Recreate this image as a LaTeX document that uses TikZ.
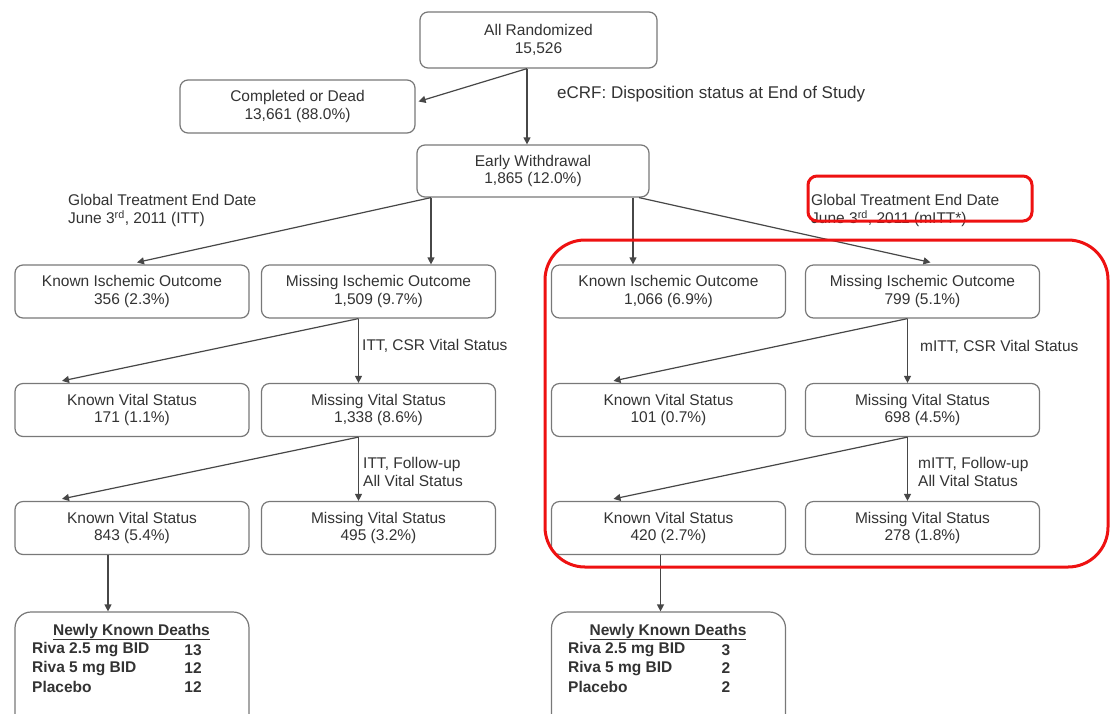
\documentclass[tikz,border=0pt]{standalone}
\usepackage{fontspec}
\setmainfont{Liberation Sans}
\usetikzlibrary{arrows.meta,calc}
\definecolor{txt}{HTML}{333333}
\definecolor{bord}{HTML}{787878}
\definecolor{ln}{HTML}{474747}
\definecolor{hl}{HTML}{EE1111}
\begin{document}
\begin{tikzpicture}[x=1pt,y=-1pt,
  box/.style={draw=bord, line width=1.2pt, rounded corners=8pt, minimum width=234pt, minimum height=53pt, align=center, font=\fontsize{15.5}{17.5}\selectfont, text=txt, inner sep=0pt},
  lbl/.style={font=\fontsize{15.5}{17.5}\selectfont, text=txt, align=left, inner sep=0pt, anchor=west},
  arr/.style={draw=ln, line width=1.2pt, -{Triangle[length=7pt,width=7pt]}},
  dbox/.style={draw=bord, line width=1.2pt, rounded corners=16pt, minimum width=234pt, minimum height=125pt, inner sep=0pt},
  dtxt/.style={font=\bfseries\fontsize{15.5}{18}\selectfont, text=txt, inner sep=0pt},
  hlbox/.style={draw=hl, line width=3pt}
]
\useasboundingbox (0,0) rectangle (1110,713);
\fill[white] (0,0) rectangle (1110,713);

% top
\node[box, minimum width=237pt, minimum height=56pt] (ar) at (538.5,40) {All Randomized\\15,526};
\node[box, minimum width=235pt] (cd) at (297.5,106.5) {Completed or Dead\\13,661 (88.0\%)};
\node[box, minimum width=232pt, minimum height=52pt] (ew) at (533,171) {Early Withdrawal\\1,865 (12.0\%)};
\node[lbl, font=\fontsize{17}{19}\selectfont] (ecrf) at (557,94) {eCRF: Disposition status at End of Study};

% ischemic outcome row
\node[box] (kioL) at (132,291.5) {Known Ischemic Outcome\\356 (2.3\%)};
\node[box] (mioL) at (378.5,291.5) {Missing Ischemic Outcome\\1,509 (9.7\%)};
\node[box] (kioR) at (668.5,291.5) {Known Ischemic Outcome\\1,066 (6.9\%)};
\node[box] (mioR) at (922.5,291.5) {Missing Ischemic Outcome\\799 (5.1\%)};

% vital status row 1
\node[box] (kvL) at (132,410) {Known Vital Status\\171 (1.1\%)};
\node[box] (mvL) at (378.5,410) {Missing Vital Status\\1,338 (8.6\%)};
\node[box] (kvR) at (668.5,410) {Known Vital Status\\101 (0.7\%)};
\node[box] (mvR) at (922.5,410) {Missing Vital Status\\698 (4.5\%)};

% vital status row 2
\node[box] (kwL) at (132,528) {Known Vital Status\\843 (5.4\%)};
\node[box] (mwL) at (378.5,528) {Missing Vital Status\\495 (3.2\%)};
\node[box] (kwR) at (668.5,528) {Known Vital Status\\420 (2.7\%)};
\node[box] (mwR) at (922.5,528) {Missing Vital Status\\278 (1.8\%)};

% deaths boxes
\node[dbox] (ndL) at (132,674.5) {};
\node[dbox] (ndR) at (668.5,674.5) {};
\node[dtxt] (ndLt) at (131.5,632) {\underline{Newly Known Deaths}};
\node[dtxt, anchor=west] (ndL1) at (32,650) {Riva 2.5 mg BID};
\node[dtxt, anchor=west] (ndL2) at (32,668.5) {Riva 5 mg BID};
\node[dtxt, anchor=west] (ndL3) at (32,687) {Placebo};
\node[dtxt] (ndL1v) at (193,650) {13};
\node[dtxt] (ndL2v) at (193,668.5) {12};
\node[dtxt] (ndL3v) at (193,687) {12};
\node[dtxt] (ndRt) at (668,632) {\underline{Newly Known Deaths}};
\node[dtxt, anchor=west] (ndR1) at (568,650) {Riva 2.5 mg BID};
\node[dtxt, anchor=west] (ndR2) at (568,668.5) {Riva 5 mg BID};
\node[dtxt, anchor=west] (ndR3) at (568,687) {Placebo};
\node[dtxt] (ndR1v) at (726,650) {3};
\node[dtxt] (ndR2v) at (726,668.5) {2};
\node[dtxt] (ndR3v) at (726,687) {2};

% labels
\node[lbl] (gL) at (68,210.5) {Global Treatment End Date\\June 3\textsuperscript{rd}, 2011 (ITT)};
\node[lbl] (gR) at (811,210.5) {Global Treatment End Date\\June 3\textsuperscript{rd}, 2011 (mITT*)};
\node[lbl] (l1L) at (362,346) {ITT, CSR Vital Status};
\node[lbl] (l2L) at (363,472) {ITT, Follow-up\\All Vital Status};
\node[lbl] (l1R) at (920,347) {mITT, CSR Vital Status};
\node[lbl] (l2R) at (918,472) {mITT, Follow-up\\All Vital Status};

% connectors
\coordinate (arS) at ($(ar.south)+(-11.5,0)$);
\draw[arr] (arS) -- ($(cd.east)+(3,-5)$);
\draw[arr] (arS) -- (arS |- ew.north);

\coordinate (ewL) at ($(ew.south)+(-102,0)$);
\coordinate (ewR) at ($(ew.south)+(100,0)$);
\coordinate (ewR2) at ($(ew.south)+(106,0)$);
\draw[arr] (ewL) -- ($(kioL.north)+(5,-2)$);
\draw[arr] (ewL) -- (ewL |- mioL.north);
\draw[arr] (ewR) -- (ewR |- kioR.north);
\draw[arr] (ewR2) -- ($(mioR.north)+(8,-2)$);

\coordinate (m1L) at ($(mioL.south)+(-20,0)$);
\draw[arr] (m1L) -- ($(kvL.north)+(-70,-2)$);
\draw[arr] (m1L) -- (m1L |- mvL.north);
\coordinate (m1R) at ($(mioR.south)+(-15,0)$);
\draw[arr] (m1R) -- ($(kvR.north)+(-55,-2)$);
\draw[arr] (m1R) -- (m1R |- mvR.north);

\coordinate (m2L) at ($(mvL.south)+(-20,0)$);
\draw[arr] (m2L) -- ($(kwL.north)+(-70,-2)$);
\draw[arr] (m2L) -- (m2L |- mwL.north);
\coordinate (m2R) at ($(mvR.south)+(-15,0)$);
\draw[arr] (m2R) -- ($(kwR.north)+(-55,-2)$);
\draw[arr] (m2R) -- (m2R |- mwR.north);

\coordinate (k3L) at ($(kwL.south)+(-24,0)$);
\draw[arr] (k3L) -- (k3L |- ndL.north);
\coordinate (k3R) at ($(kwR.south)+(-8,0)$);
\draw[arr] (k3R) -- (k3R |- ndR.north);

% red highlights
\draw[hlbox, rounded corners=9pt] (808,176) rectangle (1032,221);
\draw[hlbox, rounded corners=40pt] (545,240) rectangle (1108,567);
\end{tikzpicture}
\end{document}
